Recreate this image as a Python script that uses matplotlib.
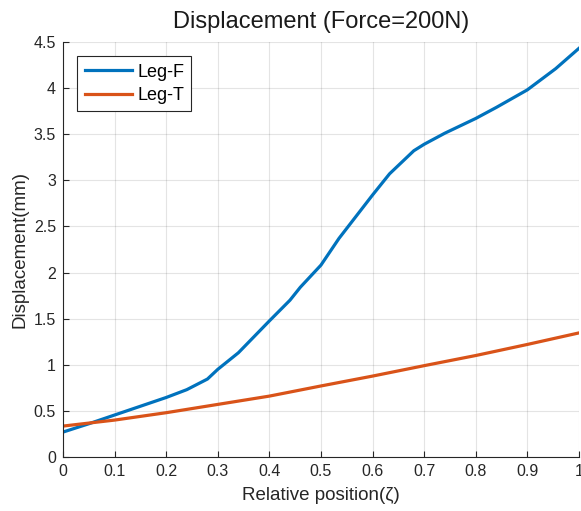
import numpy as np
import matplotlib
matplotlib.use("Agg")
import matplotlib.pyplot as plt

plt.rcParams['font.family'] = ['Liberation Sans', 'DejaVu Sans']

# --- Data ---
pos_f = [0, 0.05, 0.1, 0.15, 0.2, 0.24, 0.28, 0.3, 0.34, 0.4, 0.44, 0.46,
         0.5, 0.535, 0.6, 0.633, 0.68, 0.7, 0.74, 0.8, 0.84, 0.9, 0.955, 1.0]
disp_f = [0.27, 0.36, 0.455, 0.55, 0.645, 0.73, 0.845, 0.95, 1.13, 1.475, 1.70, 1.84,
          2.08, 2.37, 2.84, 3.07, 3.32, 3.39, 3.51, 3.67, 3.79, 3.98, 4.21, 4.43]

pos_t = [0, 0.1, 0.2, 0.3, 0.4, 0.5, 0.6, 0.7, 0.8, 0.9, 1.0]
disp_t = [0.335, 0.40, 0.48, 0.57, 0.66, 0.77, 0.877, 0.99, 1.10, 1.22, 1.345]

xticks = np.round(np.arange(0, 1.01, 0.1), 1)
yticks = np.arange(0, 4.51, 0.5)
xtick_labels = ['0', '0.1', '0.2', '0.3', '0.4', '0.5', '0.6', '0.7', '0.8', '0.9', '1']
ytick_labels = ['0', '0.5', '1', '1.5', '2', '2.5', '3', '3.5', '4', '4.5']

# --- Plot ---
fig = plt.figure(figsize=(5.81, 5.11), dpi=100)
ax = fig.add_axes([0.1084, 0.1057, 0.888, 0.8123])

ax.plot(pos_f, disp_f, color='#0072BD', lw=2.3, label='Leg-F')
ax.plot(pos_t, disp_t, color='#D95319', lw=2.3, label='Leg-T')

ax.set_xlim(0, 1)
ax.set_ylim(0, 4.5)
ax.set_xticks(xticks)
ax.set_xticklabels(xtick_labels)
ax.set_yticks(yticks)
ax.set_yticklabels(ytick_labels)
ax.grid(True, color='#262626', alpha=0.12, lw=0.8)
ax.tick_params(direction='in', length=4, labelsize=11.5, colors='#262626', pad=5)
ax.spines['top'].set_visible(False)
ax.spines['right'].set_visible(False)
for s in ['left', 'bottom']:
    ax.spines[s].set_color('#262626')
    ax.spines[s].set_linewidth(0.8)

ax.set_title('Displacement (Force=200N)', fontsize=17, pad=10, color='#1a1a1a')
ax.set_xlabel('Relative position(ζ)', fontsize=13.5, color='#262626', labelpad=6)
ax.set_ylabel('Displacement(mm)', fontsize=13.5, color='#262626', labelpad=4)

leg = ax.legend(loc='upper left', fontsize=13, frameon=True, fancybox=False,
                edgecolor='#262626', framealpha=1, handlelength=2.6,
                handletextpad=0.3, borderaxespad=0.8, labelspacing=0.35)
leg.get_frame().set_linewidth(0.8)

plt.savefig('out.png', dpi=100)
